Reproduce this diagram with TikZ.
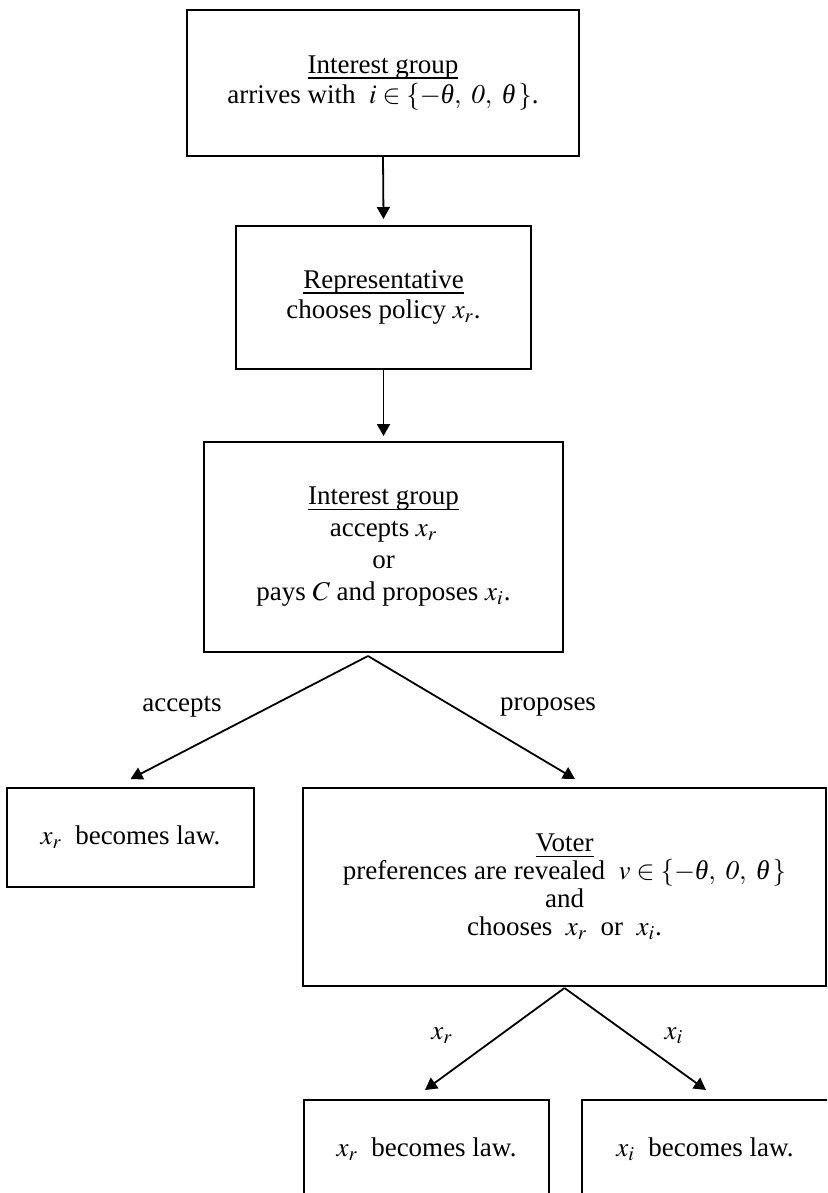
\documentclass[tikz,border=0pt]{standalone}
\usepackage{mathptmx}
\usepackage[no-math]{fontspec}
\setmainfont{Liberation Serif}
\usetikzlibrary{arrows.meta}
\newcommand\ulx[1]{\setbox0\hbox{#1}\leavevmode\rlap{\rule[-2.6pt]{\wd0}{0.7pt}}\box0}
\newcommand\thx{\mbox{\itshape θ}}
\begin{document}
\begin{tikzpicture}[x=0.5pt,y=-0.5pt,
  box/.style={draw, line width=1pt, align=center, inner sep=0pt, font=\fontsize{13.5pt}{15pt}\selectfont},
  arr/.style={-{Triangle[length=6pt,width=6.5pt]}, line width=0.9pt},
  lab/.style={inner sep=0pt, font=\fontsize{13.5pt}{15pt}\selectfont}]
\useasboundingbox (0,0) rectangle (827,1193);
\clip (0,0) rectangle (827,1193);
\fill[white] (0,0) rectangle (827,1193);

\node[box, minimum width=196pt, minimum height=73pt] (ig1) at (383,83)
  {\ulx{Interest group}\\ arrives with \ $i\in\{-\thx,\ \mathit{0},\ \thx\,\}$.};
\node[box, minimum width=147.5pt, minimum height=71.5pt] (rep) at (383.5,297.5)
  {\ulx{Representative}\\ chooses policy $x_r$.};
\node[box, minimum width=179.5pt, minimum height=105pt, font=\fontsize{13.5pt}{16pt}\selectfont] (ig2) at (383.5,547)
  {\ulx{Interest group}\\ accepts $x_r$\\ or\\ pays $C$ and proposes $x_i$.};
\node[box, minimum width=123.5pt, minimum height=49.5pt] (law1) at (130.5,837.5)
  {$x_r$\ \ becomes law.};
\node[box, minimum width=261.5pt, minimum height=99pt, font=\fontsize{13.5pt}{14pt}\selectfont] (voter) at (564.5,887)
  {\ulx{Voter}\\ preferences are revealed \ $v\in\{-\thx,\ \mathit{0},\ \thx\,\}$\\ and\\ chooses \ $x_r$\ \ or \ $x_i$.};
\node[box, minimum width=122.5pt, minimum height=49.5pt] (law2) at (426.5,1149.5)
  {$x_r$\ \ becomes law.};
\node[box, minimum width=140pt, minimum height=49.5pt] (law3) at (722,1149.5)
  {\hspace*{-17pt}$x_i$\ \ becomes law.};

\draw[arr] (ig1.south) -- ([yshift=3pt]rep.north);
\draw[arr] (rep.south) -- ([yshift=2.5pt]ig2.north);

\coordinate (ap1) at ([xshift=-7.75pt,yshift=-1.5pt]ig2.south);
\draw[arr] (ap1) -- ([yshift=4pt]law1.north);
\draw[arr] (ap1) -- ([xshift=5.25pt,yshift=4pt]voter.north);
\node[lab] (acc) at (182,707) {accepts};
\node[lab] (prop) at (548,707) {proposes};

\coordinate (ap2) at ([yshift=-0.5pt]voter.south);
\draw[arr] (ap2) -- ([xshift=-0.75pt,yshift=4.5pt]law2.north);
\draw[arr] (ap2) -- ([xshift=-8pt,yshift=4.5pt]law3.north);
\node[lab] (lxr) at (442,1036) {$x_r$};
\node[lab] (lxi) at (674,1036) {$x_i$};
\end{tikzpicture}
\end{document}
